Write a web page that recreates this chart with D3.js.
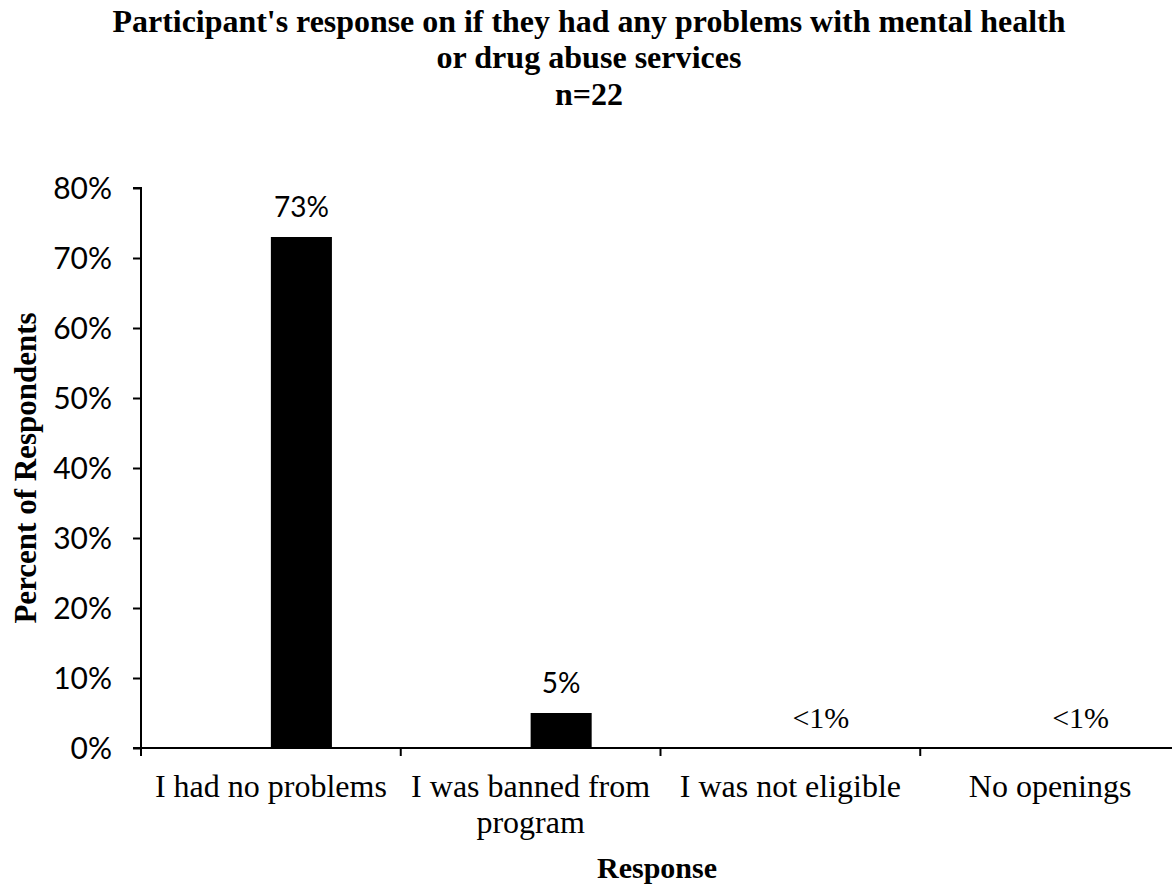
<!DOCTYPE html>
<html>
<head>
<meta charset="utf-8">
<script src="https://cdn.jsdelivr.net/npm/d3@7"></script>
<style>
  html, body { margin: 0; padding: 0; background: #fff; }
  svg { display: block; }
</style>
</head>
<body>
<svg id="chart" width="1172" height="888"></svg>
<script>
// ---- data ----
const titleLines = ["Participant's response on if they had any problems with mental health", "or drug abuse services", "n=22"];
const categories = ["I had no problems", "I was banned from program", "I was not eligible", "No openings"];
const values = [73, 5, 0, 0];
const valueLabels = ["73%", "5%", "<1%", "<1%"];
const yTicks = [0, 10, 20, 30, 40, 50, 60, 70, 80];
const yTitle = "Percent of Respondents";
const xTitle = "Response";

// ---- layout ----
const W = 1172, H = 888;
const plot = { left: 141, right: 1180, top: 188, bottom: 748 };
const serif = "'Liberation Serif', 'Times New Roman', serif";
const sans = "Lato, 'Open Sans', sans-serif";

const svg = d3.select("#chart");

const x0 = d3.scaleBand().domain(categories).range([plot.left, plot.right]).padding(0);
const y = d3.scaleLinear().domain([0, 80]).range([plot.bottom, plot.top]);
const barW = x0.bandwidth() * 0.235;

// title
const titleBaselines = [32, 68, 105];
const titleWidths = [953, 305, 68];
svg.append("g").selectAll("text").data(titleLines).join("text")
  .attr("x", 589)
  .attr("y", (d, i) => titleBaselines[i])
  .attr("text-anchor", "middle")
  .attr("font-family", serif)
  .attr("font-weight", "bold")
  .attr("font-size", 32)
  .attr("textLength", (d, i) => titleWidths[i])
  .attr("lengthAdjust", "spacingAndGlyphs")
  .attr("fill", "#000")
  .text(d => d);

// y axis
const yAxis = d3.axisLeft(y).tickValues(yTicks).tickFormat(d => d + "%").tickSize(8).tickPadding(21);
const gy = svg.append("g").attr("transform", `translate(${plot.left},0)`).call(yAxis);
gy.select(".domain").attr("stroke", "#000").attr("stroke-width", 2).attr("d", `M-8,${plot.top}H0V${plot.bottom}`);
gy.selectAll(".tick line").attr("stroke", "#000").attr("stroke-width", 2);
gy.selectAll(".tick text").attr("font-family", sans).attr("font-size", 30).attr("fill", "#000").attr("dy", "0.36em");

// bars
svg.append("g").selectAll("rect").data(categories).join("rect")
  .attr("x", c => x0(c) + x0.bandwidth() / 2)
  .attr("width", barW)
  .attr("y", (c, i) => y(values[i]))
  .attr("height", (c, i) => y(0) - y(values[i]))
  .attr("fill", "#000");

// value labels
svg.append("g").selectAll("text").data(categories).join("text")
  .attr("x", c => x0(c) + x0.bandwidth() / 2 + barW / 2)
  .attr("y", (c, i) => y(values[i]) - 20)
  .attr("text-anchor", "middle")
  .attr("font-family", (c, i) => valueLabels[i].startsWith("<") ? serif : sans)
  .attr("font-size", (c, i) => valueLabels[i].startsWith("<") ? 30 : 28)
  .attr("fill", "#000")
  .text((c, i) => valueLabels[i]);

// x axis
const gx = svg.append("g").attr("transform", `translate(0,${plot.bottom})`);
gx.append("line").attr("x1", plot.left - 8).attr("x2", W).attr("y1", 0).attr("y2", 0)
  .attr("stroke", "#000").attr("stroke-width", 2);
const boundaries = categories.map(c => x0(c)).concat([x0.range()[1]]);
gx.selectAll("line.bt").data(boundaries).join("line").attr("class", "bt")
  .attr("x1", d => d).attr("x2", d => d).attr("y1", 0).attr("y2", 8)
  .attr("stroke", "#000").attr("stroke-width", 2);

// x labels with wrapping
const xl = svg.append("g").selectAll("text").data(categories).join("text")
  .attr("x", c => x0(c) + x0.bandwidth() / 2)
  .attr("y", 797)
  .attr("text-anchor", "middle")
  .attr("font-family", serif)
  .attr("font-size", 32)
  .attr("fill", "#000");

xl.each(function(c) {
  const t = d3.select(this);
  const words = c.split(" ");
  const maxW = x0.bandwidth() - 6;
  let lines = [], line = [];
  const probe = t.append("tspan");
  words.forEach(w => {
    const test = line.concat([w]).join(" ");
    probe.text(test);
    if (probe.node().getComputedTextLength() > maxW && line.length) {
      lines.push(line.join(" "));
      line = [w];
    } else line.push(w);
  });
  lines.push(line.join(" "));
  probe.remove();
  const cx = t.attr("x");
  lines.forEach((l, i) => {
    t.append("tspan").attr("x", cx).attr("dy", i === 0 ? 0 : 36).text(l);
  });
});

// axis titles
svg.append("text")
  .attr("transform", `translate(36,${(plot.top + plot.bottom) / 2}) rotate(-90)`)
  .attr("text-anchor", "middle")
  .attr("font-family", serif)
  .attr("font-weight", "bold")
  .attr("font-size", 31)
  .attr("fill", "#000")
  .text(yTitle);

svg.append("text")
  .attr("x", 657)
  .attr("y", 878)
  .attr("text-anchor", "middle")
  .attr("font-family", serif)
  .attr("font-weight", "bold")
  .attr("font-size", 30)
  .attr("fill", "#000")
  .text(xTitle);
</script>
</body>
</html>
